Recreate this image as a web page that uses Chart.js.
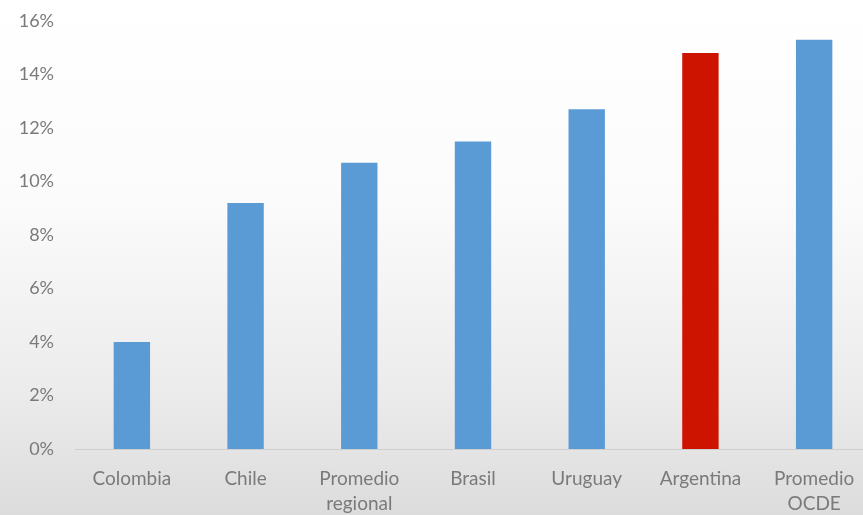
<!DOCTYPE html>
<html>
<head>
<meta charset="utf-8">
<script src="https://cdn.jsdelivr.net/npm/chart.js@4"></script>
<style>
  html, body { margin: 0; padding: 0; overflow: hidden; background: #fff; }
  #wrap { width: 871px; height: 515px; }
</style>
</head>
<body>
<div id="wrap"><canvas id="chart"></canvas></div>
<script>
const categories = ["Colombia", "Chile", ["Promedio", "regional"], "Brasil", "Uruguay", "Argentina", ["Promedio", "OCDE"]];
const values = [4.0, 9.2, 10.7, 11.5, 12.7, 14.8, 15.3];
const yTicks = [0, 2, 4, 6, 8, 10, 12, 14, 16];
const highlight = "Argentina";

const blue = "#5b9bd5";
const red = "#cc1400";

// soft gray gradient behind the chart, like the slide background
const bgPlugin = {
  id: "bg",
  beforeDraw: (chart) => {
    const { ctx, width, height } = chart;
    const g = ctx.createLinearGradient(0, 0, 0, height);
    g.addColorStop(0, "#ffffff");
    g.addColorStop(0.4, "#fbfbfb");
    g.addColorStop(0.75, "#ececec");
    g.addColorStop(1, "#dcdcdc");
    ctx.save();
    ctx.fillStyle = g;
    ctx.fillRect(0, 0, width, height);
    ctx.restore();
  },
};

const ctx = document.getElementById("chart");

new Chart(ctx, {
  type: "bar",
  data: {
    labels: categories,
    datasets: [
      {
        data: values,
        backgroundColor: categories.map((c) => (c === highlight ? red : blue)),
        borderWidth: 0,
        barPercentage: 0.32,
        categoryPercentage: 1,
      },
    ],
  },
  options: {
    responsive: true,
    maintainAspectRatio: false,
    animation: false,
    layout: { padding: { top: 21, left: 0, right: 0, bottom: 0 } },
    plugins: {
      legend: { display: false },
      tooltip: { enabled: false },
    },
    scales: {
      x: {
        grid: { display: false },
        border: { display: true, color: "#cfcfcf", width: 1 },
        ticks: {
          color: "#7a7a7a",
          font: { family: "Lato", size: 19, lineHeight: 1.3 },
          padding: 10,
          maxRotation: 0,
          autoSkip: false,
        },
        afterFit: (scale) => {
          scale.height = 66;
          scale.paddingLeft = 0;
          scale.paddingRight = 0;
        },
      },
      y: {
        min: 0,
        max: 16,
        afterBuildTicks: (scale) => {
          scale.ticks = yTicks.map((v) => ({ value: v }));
        },
        grid: { display: false },
        border: { display: false },
        ticks: {
          color: "#7a7a7a",
          font: { family: "Lato", size: 18 },
          padding: 13,
          callback: (v) => v + "%",
        },
        afterFit: (scale) => {
          scale.width = 75;
          scale.paddingTop = 0;
          scale.paddingBottom = 0;
        },
      },
    },
  },
  plugins: [bgPlugin],
});
</script>
</body>
</html>
